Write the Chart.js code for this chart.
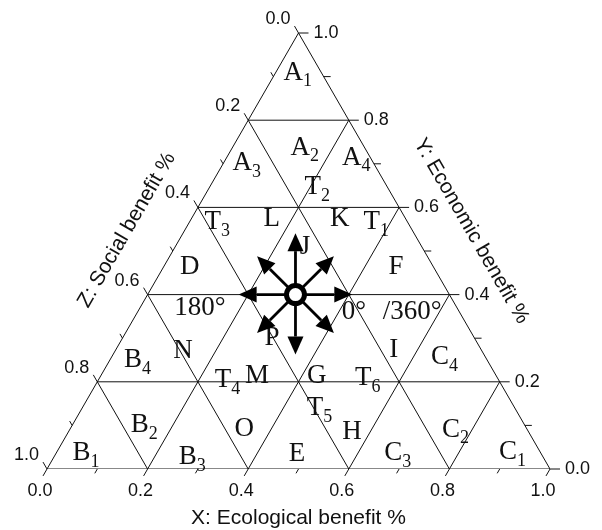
<!DOCTYPE html>
<html><head><meta charset="utf-8">
<script src="https://cdn.jsdelivr.net/npm/chart.js@4/dist/chart.umd.min.js"></script>
<style>html,body{margin:0;padding:0;background:#fff;}#wrap{width:602px;height:530px;}</style>
</head><body>
<div id="wrap"><canvas id="c" width="602" height="530"></canvas></div>
<script>
// ---- data ----
const gridValues = [0.2, 0.4, 0.6, 0.8];
const tickValues = [0.0, 0.2, 0.4, 0.6, 0.8, 1.0];
const tickLabels = ['0.0', '0.2', '0.4', '0.6', '0.8', '1.0'];
const minorTickValues = [0.1, 0.3, 0.5, 0.7, 0.9];
const axisTitles = ['X: Ecological benefit %', 'Y: Economic benefit %', 'Z: Social benefit %'];

// region labels: main text, subscript, ternary position (X ecological, Y economic)
const regionText = ['A','A','A','A','T','T','L','K','T','D','J','F','180°','0°','/360°','N','P','I','C','B','T','M','G','T','T','H','O','B','C','B','B','E','C','C'];
const regionSub  = ['1','3','2','4','2','3','', '', '1','', '', '', '',    '',  '',     '', '', '', '4','4','4','', '', '6','5','', '', '2','2','1','3','', '3','1'];
const regionX    = [0.035,0.037,0.135,0.249,0.205,0.046,0.160,0.295,0.362,0.052,0.258,0.462,0.119,0.430,0.546,0.135,0.297,0.553,0.653,0.046,0.248,0.311,0.430,0.524,0.463,0.564,0.346,0.134,0.758,0.050,0.266,0.480,0.670,0.897];
const regionY    = [0.909,0.702,0.737,0.714,0.647,0.567,0.574,0.574,0.567,0.464,0.510,0.464,0.370,0.360,0.360,0.271,0.301,0.273,0.257,0.250,0.204,0.213,0.213,0.209,0.140,0.085,0.092,0.101,0.090,0.037,0.028,0.034,0.037,0.039];

// direction arrows around the centre point
const arrowCenter = [0.294, 0.4];          // ternary X, Y
const arrowAngles = [0, 45, 90, 135, 180, 225, 270, 315];
const arrowReach  = [0.113, 0.108, 0.122, 0.108, 0.113, 0.108, 0.119, 0.108];

// ---- helpers ----
const H = Math.sqrt(3) / 2;
function tern(X, Y) { return { x: X + Y / 2, y: Y * H }; }

function seg(a, b) {
  return { type: 'scatter', showLine: true, data: [a, b], borderColor: '#111', borderWidth: 1,
           pointRadius: 0, fill: false, tension: 0 };
}
const datasets = [];
// outer triangle
datasets.push({ type: 'scatter', showLine: true, data: [tern(0,0), tern(1,0), tern(0,1), tern(0,0)],
  borderColor: '#111', borderWidth: 1, pointRadius: 0, fill: false });
gridValues.forEach(v => {
  datasets.push(seg(tern(0, v), tern(1 - v, v)));       // constant Y
  datasets.push(seg(tern(v, 0), tern(v, 1 - v)));       // constant X
  datasets.push(seg(tern(1 - v, 0), tern(0, 1 - v)));   // constant Z
});

const ternPlugin = {
  id: 'ternPlugin',
  afterDatasetsDraw(chart) {
    const ctx = chart.ctx;
    const sx = chart.scales.x, sy = chart.scales.y;
    const P = (X, Y) => { const c = tern(X, Y); return [sx.getPixelForValue(c.x), sy.getPixelForValue(c.y)]; };
    ctx.save();
    ctx.strokeStyle = '#111';
    ctx.lineWidth = 1;
    const dl = [-0.5, Math.sqrt(3) / 2];   // down-left (pixel)
    const ul = [-0.5, -Math.sqrt(3) / 2];  // up-left (pixel)
    function tick(p, d, len) {
      ctx.beginPath(); ctx.moveTo(p[0], p[1]); ctx.lineTo(p[0] + d[0] * len, p[1] + d[1] * len); ctx.stroke();
    }
    const allTicks = tickValues.map(t => [t, 8]).concat(minorTickValues.map(t => [t, 5]));
    allTicks.forEach(([t, len]) => {
      tick(P(t, 0), dl, len);            // X axis (bottom)
      tick(P(1 - t, t), [1, 0], len + 2);// Y axis (right)
      tick(P(0, 1 - t), ul, len);        // Z axis (left)
    });
    // tick labels
    ctx.fillStyle = '#111';
    ctx.font = '18px "Liberation Sans", Arial, sans-serif';
    ctx.textBaseline = 'middle';
    tickValues.forEach((t, i) => {
      let p = P(t, 0);
      ctx.textAlign = 'center'; ctx.fillText(tickLabels[i], p[0] - 7, p[1] + 22);
      p = P(1 - t, t);
      ctx.textAlign = 'left'; ctx.fillText(tickLabels[i], p[0] + 15, p[1]);
      p = P(0, 1 - t);
      ctx.textAlign = 'right'; ctx.fillText(tickLabels[i], p[0] - 8, p[1] - 14);
    });
    // axis titles
    ctx.font = '21px "Liberation Sans", Arial, sans-serif';
    ctx.textAlign = 'center';
    let m = P(0.5, 0);
    ctx.fillText(axisTitles[0], m[0], m[1] + 49);
    m = P(0.5, 0.5);
    ctx.save(); ctx.translate(m[0] + 47, m[1] - 20); ctx.rotate(Math.PI / 3); ctx.fillText(axisTitles[1], 0, 0); ctx.restore();
    m = P(0, 0.5);
    ctx.save(); ctx.translate(m[0] - 46, m[1] - 21); ctx.rotate(-Math.PI / 3); ctx.fillText(axisTitles[2], 0, 0); ctx.restore();

    // region labels
    regionText.forEach((txt, i) => {
      const p = P(regionX[i], regionY[i]);
      ctx.font = '27px "Liberation Serif", "Times New Roman", serif';
      ctx.textAlign = 'center'; ctx.textBaseline = 'middle';
      ctx.fillText(txt, p[0], p[1]);
      if (regionSub[i]) {
        const w = ctx.measureText(txt).width;
        ctx.font = '18px "Liberation Serif", "Times New Roman", serif';
        ctx.textAlign = 'left';
        ctx.fillText(regionSub[i], p[0] + w / 2, p[1] + 9);
      }
    });

    // arrows
    const c0 = tern(arrowCenter[0], arrowCenter[1]);
    const cx = sx.getPixelForValue(c0.x), cy = sy.getPixelForValue(c0.y);
    ctx.fillStyle = '#000'; ctx.strokeStyle = '#000';
    arrowAngles.forEach((a, i) => {
      const r = a * Math.PI / 180;
      const tx = sx.getPixelForValue(c0.x + arrowReach[i] * Math.cos(r));
      const ty = sy.getPixelForValue(c0.y + arrowReach[i] * Math.sin(r));
      const dx = tx - cx, dy = ty - cy, L = Math.hypot(dx, dy);
      const ux = dx / L, uy = dy / L;
      const hl = 18, hw = 8;
      ctx.lineWidth = 2.8;
      ctx.beginPath(); ctx.moveTo(cx, cy); ctx.lineTo(tx - ux * hl, ty - uy * hl); ctx.stroke();
      ctx.beginPath();
      ctx.moveTo(tx, ty);
      ctx.lineTo(tx - ux * hl - uy * hw, ty - uy * hl + ux * hw);
      ctx.lineTo(tx - ux * hl + uy * hw, ty - uy * hl - ux * hw);
      ctx.closePath(); ctx.fill();
    });
    // centre ring
    ctx.beginPath(); ctx.arc(cx, cy, 9, 0, Math.PI * 2);
    ctx.fillStyle = '#fff'; ctx.fill();
    ctx.lineWidth = 5; ctx.strokeStyle = '#000'; ctx.stroke();
    ctx.restore();
  }
};

new Chart(document.getElementById('c'), {
  type: 'scatter',
  data: { datasets },
  options: {
    responsive: false,
    animation: false,
    layout: { padding: { left: 47, right: 52, top: 33, bottom: 61 } },
    scales: {
      x: { type: 'linear', min: 0, max: 1, display: false },
      y: { type: 'linear', min: 0, max: H, display: false }
    },
    plugins: { legend: { display: false }, tooltip: { enabled: false } }
  },
  plugins: [ternPlugin]
});
</script>
</body></html>
